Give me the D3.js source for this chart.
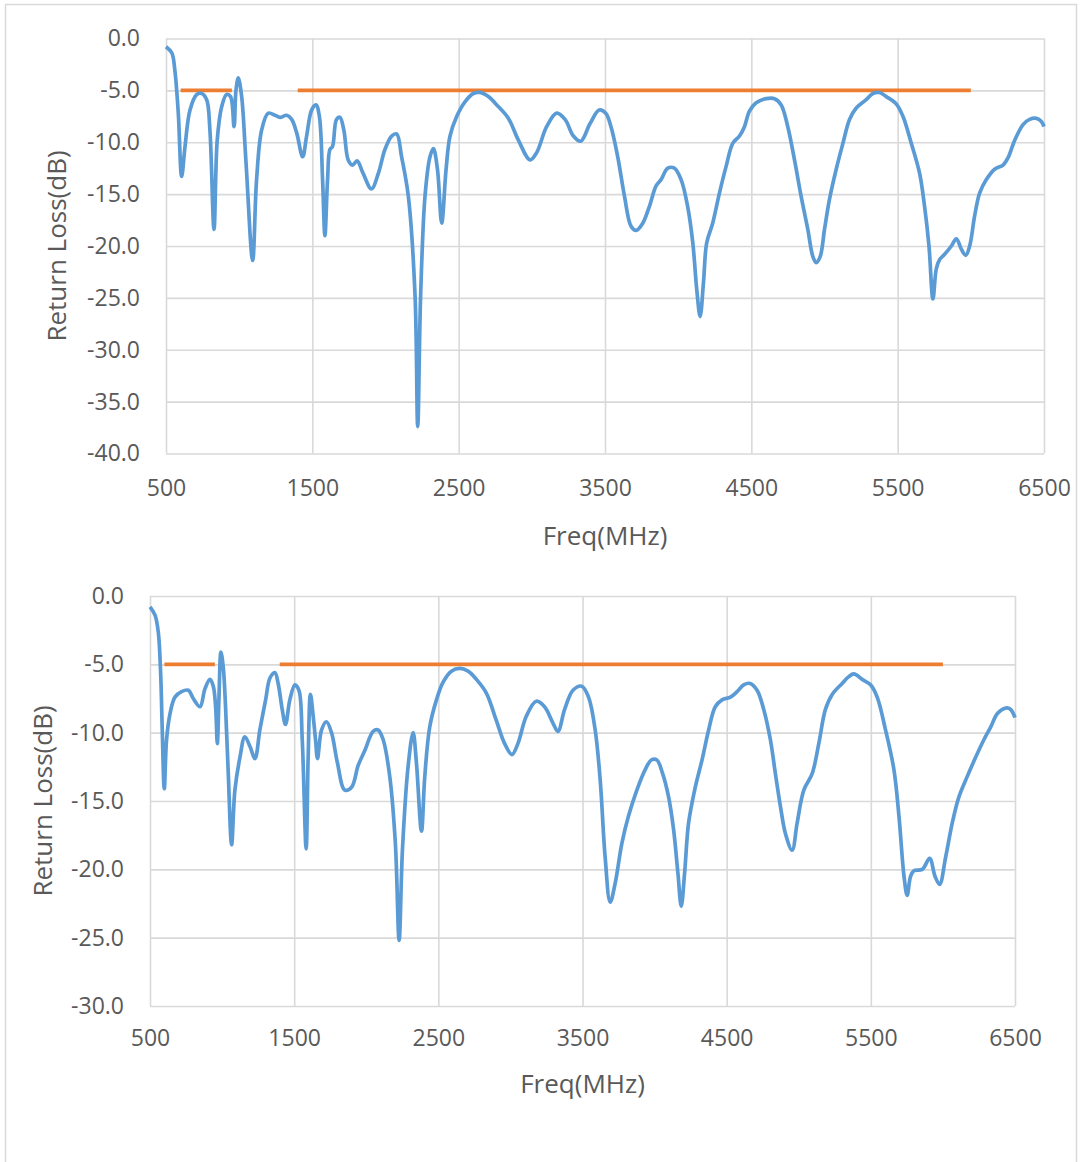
<!DOCTYPE html>
<html>
<head>
<meta charset="utf-8">
<script src="https://cdn.jsdelivr.net/npm/d3@7"></script>
<style>
  html, body { margin: 0; padding: 0; background: #fff; }
  svg { display: block; }
  text { font-family: "Open Sans", "Noto Sans", sans-serif; fill: #595959; }
</style>
</head>
<body>
<svg id="chart" width="1089" height="1162"></svg>
<script>
// x ticks, MHz
var freqTicks = [500, 1500, 2500, 3500, 4500, 5500, 6500];

// -5 dB spec line, two pieces
var limitLevel = -5;
var limitSegments = [[600, 950], [1400, 6000]];

// first measurement
var topFreq = [500, 540, 560, 584, 607, 630, 664, 710, 744, 778, 800, 828, 850, 880, 914, 941, 965, 978, 994,
  1017, 1047, 1092, 1119, 1154, 1199, 1245, 1279, 1325, 1359, 1393, 1434, 1461, 1495, 1525, 1548, 1570, 1586,
  1604, 1620, 1638, 1665, 1688, 1715, 1745, 1775, 1806, 1847, 1904, 1951, 1996, 2042, 2076, 2110, 2156, 2202,
  2220, 2240, 2270, 2304, 2327, 2355, 2384, 2414, 2441, 2487, 2543, 2600, 2646, 2703, 2760, 2840, 2908, 2988,
  3033, 3101, 3170, 3227, 3284, 3334, 3398, 3460, 3505, 3541, 3587, 3633, 3678, 3712, 3758, 3803, 3849, 3883,
  3929, 3974, 4020, 4065, 4100, 4127, 4150, 4173, 4195, 4236, 4282, 4328, 4373, 4419, 4453, 4487, 4533, 4601,
  4658, 4704, 4749, 4795, 4840, 4886, 4920, 4943, 4971, 5000, 5034, 5080, 5126, 5171, 5217, 5285, 5331, 5376,
  5422, 5490, 5536, 5593, 5650, 5684, 5714, 5741, 5764, 5787, 5821, 5867, 5901, 5935, 5965, 5992, 6026, 6060,
  6106, 6163, 6220, 6254, 6300, 6357, 6402, 6448, 6482, 6500];
var topLoss = [-0.8, -1.4, -3.0, -7.2, -13.3, -10.4, -6.9, -5.4, -5.3, -5.9, -8.8, -18.4, -9.8, -6.6, -5.4, -5.6, -8.5, -5.0, -3.8,
  -5.6, -12.0, -21.4, -13.6, -8.8, -7.2, -7.4, -7.6, -7.4, -7.8, -9.1, -11.4, -9.4, -6.9, -6.4, -7.5, -13.6, -19.0,
  -13.6, -10.7, -10.4, -7.8, -7.6, -8.8, -11.7, -12.2, -11.8, -13.0, -14.5, -13.0, -10.7, -9.4, -9.2, -11.4, -15.2, -24.8,
  -37.4, -24.8, -15.2, -11.4, -10.6, -12.6, -17.8, -12.6, -9.4, -7.5, -6.1, -5.3, -5.2, -5.6, -6.4, -7.7, -9.8, -11.7,
  -11.0, -8.5, -7.2, -7.8, -9.4, -9.9, -8.2, -6.9, -7.2, -8.5, -11.4, -15.2, -18.1, -18.5, -17.8, -16.2, -14.2, -13.6,
  -12.5, -12.5, -13.6, -16.2, -19.7, -24.2, -26.8, -23.5, -19.7, -17.8, -14.9, -12.3, -10.1, -9.4, -8.5, -7.0, -6.2, -5.8,
  -5.8, -6.4, -8.5, -11.7, -15.2, -18.4, -21.0, -21.6, -21.0, -18.4, -15.5, -12.6, -10.1, -7.8, -6.7, -5.9, -5.3, -5.2,
  -5.6, -6.3, -7.5, -10.1, -13.0, -16.2, -20.0, -25.1, -22.2, -21.3, -20.8, -20.0, -19.3, -20.3, -20.9, -20.0, -17.1, -14.9,
  -13.6, -12.6, -12.2, -11.5, -9.8, -8.3, -7.8, -7.7, -8.0, -8.5];
var topLossTicks = [0, -5, -10, -15, -20, -25, -30, -35, -40];

// second measurement
var bottomFreq = [500, 535, 558, 574, 585, 599, 615, 639, 673, 719, 766, 800, 847, 881, 916, 939, 955, 967, 978,
  992, 1008, 1024, 1043, 1066, 1089, 1124, 1158, 1193, 1228, 1262, 1302, 1332, 1366, 1389, 1417, 1440, 1470,
  1505, 1533, 1556, 1583, 1597, 1613, 1632, 1648, 1662, 1690, 1724, 1759, 1800, 1851, 1898, 1944, 1990, 2048,
  2082, 2117, 2163, 2202, 2228, 2251, 2290, 2325, 2348, 2383, 2406, 2440, 2487, 2533, 2591, 2648, 2706, 2764,
  2833, 2902, 2960, 3011, 3052, 3110, 3179, 3237, 3295, 3330, 3376, 3434, 3495, 3542, 3588, 3623, 3657, 3692,
  3727, 3773, 3819, 3877, 3935, 3977, 4016, 4056, 4097, 4132, 4162, 4185, 4208, 4236, 4282, 4329, 4375, 4421,
  4468, 4526, 4572, 4618, 4664, 4711, 4757, 4803, 4838, 4873, 4908, 4954, 4989, 5035, 5093, 5139, 5185, 5232,
  5301, 5347, 5382, 5440, 5498, 5544, 5602, 5660, 5695, 5730, 5752, 5776, 5799, 5857, 5908, 5945, 5977, 6019,
  6065, 6111, 6169, 6227, 6285, 6331, 6378, 6435, 6470, 6500];
var bottomLoss = [-0.8, -1.4, -2.7, -5.7, -9.8, -14.1, -10.5, -8.6, -7.4, -7.0, -6.9, -7.5, -8.1, -6.8, -6.1, -6.6, -8.1, -10.8, -7.6,
  -4.1, -5.2, -8.1, -13.0, -18.2, -14.2, -11.8, -10.3, -11.0, -11.9, -9.8, -7.6, -6.0, -5.6, -6.4, -8.3, -9.4, -7.6,
  -6.5, -6.9, -10.5, -18.5, -11.8, -7.2, -8.8, -10.5, -11.9, -9.8, -9.2, -10.0, -12.2, -14.2, -14.0, -12.4, -11.3, -9.9,
  -9.8, -10.5, -13.2, -18.1, -25.2, -18.6, -12.5, -10.0, -12.2, -17.2, -13.2, -9.6, -7.6, -6.3, -5.5, -5.3, -5.5, -6.1,
  -7.1, -9.1, -10.8, -11.6, -10.8, -8.8, -7.7, -8.1, -9.3, -9.9, -8.3, -6.9, -6.6, -7.4, -9.8, -13.5, -19.1, -22.4,
  -21.0, -18.1, -16.1, -14.2, -12.7, -12.0, -12.0, -13.0, -14.7, -17.1, -20.3, -22.7, -20.3, -16.6, -14.0, -12.0, -9.8, -8.1,
  -7.6, -7.4, -7.0, -6.5, -6.4, -6.9, -8.3, -10.5, -13.0, -15.4, -17.4, -18.6, -16.6, -14.2, -13.0, -10.8, -8.3, -7.2,
  -6.4, -5.9, -5.7, -6.1, -6.5, -7.4, -9.8, -12.7, -16.1, -20.5, -21.9, -20.5, -20.1, -20.0, -19.2, -20.5, -21.1, -19.1,
  -16.6, -14.7, -13.2, -11.8, -10.5, -9.6, -8.6, -8.2, -8.3, -8.9];
var bottomLossTicks = [0, -5, -10, -15, -20, -25, -30];

var svg = d3.select('#chart');

// light frame around both charts
svg.append('rect')
  .attr('x', 5.5)
  .attr('y', 4.5)
  .attr('width', 1071)
  .attr('height', 1175)
  .attr('fill', 'none')
  .attr('stroke', '#d9d9d9')
  .attr('stroke-width', 1.5);

function styleAxis(a) {
  a.select('.domain').remove();
  a.selectAll('line').attr('stroke', '#d9d9d9').attr('stroke-width', 1.6);
  a.selectAll('text')
    .attr('font-size', 23)
    .attr('fill', '#595959')
    .attr('font-family', null);
}

function lossChart(opts) {
  var g = svg.append('g');
  var x = d3.scaleLinear().domain([500, 6500]).range([opts.left, opts.right]);
  var y = d3.scaleLinear().domain([0, d3.min(opts.ticks)]).range([opts.top, opts.bottom]);

  // gridlines, edges included
  g.append('g')
    .attr('transform', 'translate(' + opts.left + ',0)')
    .call(d3.axisLeft(y)
      .tickValues(opts.ticks)
      .tickSize(-(opts.right - opts.left))
      .tickPadding(26)
      .tickFormat(function (d) { return d.toFixed(1); }))
    .call(styleAxis);

  g.append('g')
    .attr('transform', 'translate(0,' + opts.bottom + ')')
    .call(d3.axisBottom(x)
      .tickValues(freqTicks)
      .tickSize(-(opts.bottom - opts.top))
      .tickPadding(opts.xPad)
      .tickFormat(d3.format('d')))
    .call(styleAxis);

  // spec line
  g.selectAll('line.limit')
    .data(limitSegments)
    .enter()
    .append('line')
      .attr('class', 'limit')
      .attr('x1', function (d) { return x(d[0]); })
      .attr('x2', function (d) { return x(d[1]); })
      .attr('y1', y(limitLevel))
      .attr('y2', y(limitLevel))
      .attr('stroke', '#ed7d31')
      .attr('stroke-width', 3.8);

  var line = d3.line()
    .x(function (d) { return x(d[0]); })
    .y(function (d) { return y(d[1]); })
    .curve(d3.curveCatmullRom.alpha(0.5));

  g.append('path')
    .datum(d3.zip(opts.freq, opts.loss))
    .attr('d', line)
    .attr('fill', 'none')
    .attr('stroke', '#5b9bd5')
    .attr('stroke-width', 3.7)
    .attr('stroke-linejoin', 'round');

  g.append('text')
    .attr('x', (opts.left + opts.right) / 2)
    .attr('y', opts.xTitleY)
    .attr('text-anchor', 'middle')
    .attr('font-size', 26)
    .text('Freq(MHz)');

  g.append('text')
    .attr('transform', 'translate(' + opts.yTitleX + ',' + (opts.top + opts.bottom) / 2 + ') rotate(-90)')
    .attr('text-anchor', 'middle')
    .attr('dy', '0.35em')
    .attr('font-size', 26)
    .text('Return Loss(dB)');
}

lossChart({
  freq: topFreq, loss: topLoss, ticks: topLossTicks,
  left: 166, right: 1044, top: 38.5, bottom: 453.5,
  xPad: 26, xTitleY: 545, yTitleX: 57
});

lossChart({
  freq: bottomFreq, loss: bottomLoss, ticks: bottomLossTicks,
  left: 150, right: 1015, top: 596, bottom: 1006,
  xPad: 24, xTitleY: 1093, yTitleX: 43
});
</script>
</body>
</html>
